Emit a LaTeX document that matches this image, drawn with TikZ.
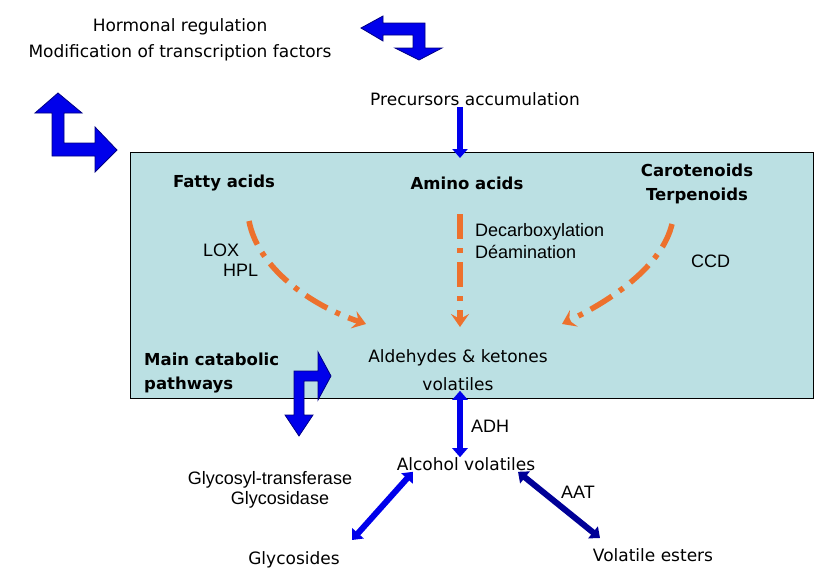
\documentclass[tikz,border=0pt]{standalone}
\usepackage{fontspec}
\setmainfont{DejaVu Sans}
\newfontfamily\arialfont{Liberation Sans}
\usetikzlibrary{arrows.meta,calc}

\definecolor{boxfill}{RGB}{187,224,227}
\definecolor{pathorange}{RGB}{237,113,45}
\definecolor{fatblue}{RGB}{0,0,235}
\definecolor{fatnavy}{RGB}{0,0,130}

\tikzset{
  label/.style={font=\fontsize{17}{19}\selectfont, inner sep=1pt},
  boldlabel/.style={font=\fontsize{16.5}{19}\selectfont\bfseries, inner sep=1pt},
  enzyme/.style={font=\fontsize{18}{20}\selectfont\arialfont, inner sep=1pt},
  pathway/.style={draw=pathorange, line width=5.5pt, dash pattern=on 25pt off 9pt on 5pt off 9pt,
    -{Stealth[length=13pt,width=18pt,inset=5pt,sep=0pt]}},
  bentarrow/.style={fill=fatblue, draw=fatnavy, line width=0.8pt, line join=miter},
  fatarrow/.style={draw=fatblue, line width=6pt, -{Triangle[length=9pt,width=15pt]}},
  dblarrow/.style={draw=fatblue, line width=6pt, {Triangle[length=9pt,width=15pt]}-{Triangle[length=9pt,width=15pt]}}
}

\begin{document}
\begin{tikzpicture}[x=1pt, y=-1pt]
    \useasboundingbox (0,0) rectangle (819,574);

    % --- REGULATION ---
    \node (hormone) at (180,27) [label] {Hormonal regulation};
    \node (modif) at (180,53) [label] {Modification of transcription factors};
    \node (prec) at (475,99) [label] {Precursors accumulation};

    % bent arrows at the top
    \filldraw[bentarrow] (361,28) -- (383,16) -- (383,23) -- (425,23) -- (425,48) -- (442,48)
        -- (419,60) -- (395,48) -- (413,48) -- (413,35) -- (383,35) -- (383,41) -- cycle;
    \filldraw[bentarrow] (58,93) -- (82,113) -- (64,113) -- (64,143) -- (95,143) -- (95,127)
        -- (117,150) -- (95,172) -- (95,156) -- (52,156) -- (52,113) -- (35,113) -- cycle;

    % --- CATABOLIC PATHWAYS BOX ---
    \node (box) at (130,152) [anchor=north west, draw, fill=boxfill, line width=0.8pt,
        minimum width=683pt, minimum height=246pt, inner sep=0pt] {};

    \coordinate (precin) at (460,158);
    \draw[fatarrow] (prec.south -| precin) -- (precin);

    \node (fatty) at (224,183) [boldlabel] {Fatty acids};
    \node (amino) at (467,183) [boldlabel] {Amino acids};
    \node (carot) at (697,170) [boldlabel] {Carotenoids};
    \node (terp) at (697,196) [boldlabel] {Terpenoids};

    \node (lox) at (202,250) [enzyme, anchor=west] {LOX};
    \node (hpl) at (222,270) [enzyme, anchor=west] {HPL};
    \node (decarb) at (474,232) [enzyme, anchor=west] {Decarboxylation};
    \node (deam) at (474,252) [enzyme, anchor=west] {Déamination};
    \node (ccd) at (690,261) [enzyme, anchor=west] {CCD};

    \node (main) at (143,359) [boldlabel, anchor=west] {Main catabolic};
    \node (pathw) at (143,385) [boldlabel, anchor=west] {pathways};

    \node (ald) at (458,358) [label] {Aldehydes \& ketones};
    \node (vol) at (458,384) [label] {volatiles};

    \coordinate (lefthit) at (366,324);
    \coordinate (midhit) at (460,327);
    \coordinate (righthit) at (562,324);
    \draw[pathway] (249,221) .. controls (258,268) and (310,305) .. (lefthit);
    \draw[pathway] (460,214) -- (midhit);
    \draw[pathway] (672,224) .. controls (662,266) and (612,300) .. (righthit);

    % bent arrow out of the box
    \filldraw[bentarrow] (331,376) -- (318,400) -- (318,381) -- (304,381) -- (304,415) -- (313,415)
        -- (299,436) -- (285,415) -- (294,415) -- (294,371) -- (318,371) -- (318,352) -- cycle;

    % --- BELOW THE BOX ---
    \node (alc) at (466,464) [label] {Alcohol volatiles};
    \node (adh) at (470,426) [enzyme, anchor=west] {ADH};
    \node (gtrans) at (270,480) [enzyme] {Glycosyl-transferase};
    \node (gdase) at (280,500) [enzyme] {Glycosidase};
    \node (aat) at (560,492) [enzyme, anchor=west] {AAT};
    \node (glyc) at (294,560) [label] {Glycosides};
    \node (ester) at (653,555) [label] {Volatile esters};

    \coordinate (glycend) at (352,540);
    \coordinate (esterend) at (600,538);
    \draw[dblarrow] ([yshift=1pt]vol.south -| 460,0) -- ([yshift=-1pt]alc.north -| 460,0);
    \draw[dblarrow] (alc.south west -| 413,0) -- (glycend);
    \draw[dblarrow, draw=fatnavy!80!fatblue] (alc.south east -| 518,0) -- (esterend);
\end{tikzpicture}
\end{document}
